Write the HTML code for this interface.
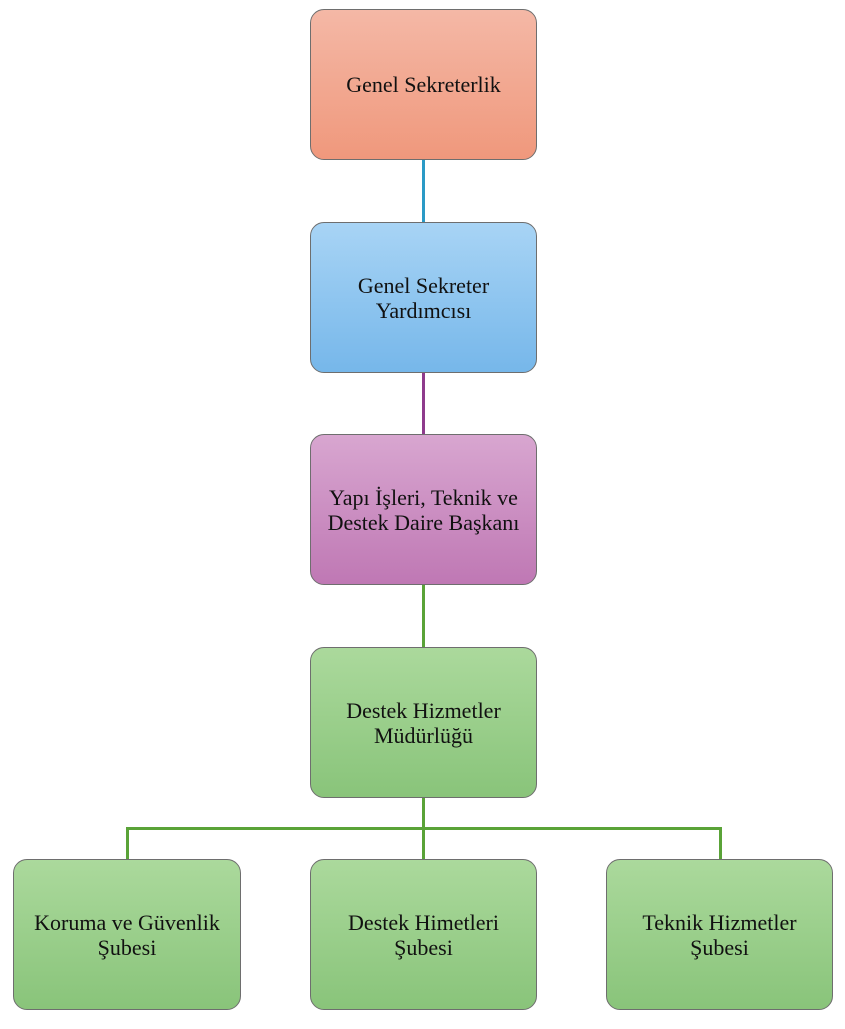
<!DOCTYPE html>
<html><head><meta charset="utf-8"><style>
body{margin:0;width:845px;height:1029px;background:#fff;position:relative;overflow:hidden;font-family:"Liberation Serif",serif;}
.b{position:absolute;width:227px;height:151px;border:1px solid #6e6e6e;border-radius:14px;box-sizing:border-box;display:flex;align-items:center;justify-content:center;text-align:center;font-size:22px;line-height:25px;color:#111;}
.r{background:linear-gradient(#f4b8a6,#f0987c);}
.bl{background:linear-gradient(#a8d4f5,#76b7ea);}
.p{background:linear-gradient(#d8a6d0,#bf78b4);}
.g{background:linear-gradient(#abd99c,#89c47a);}
.l{position:absolute;}
</style></head><body>
<div class="l" style="left:422px;top:159px;width:3px;height:63px;background:#2a9ac6"></div>
<div class="l" style="left:422px;top:372px;width:3px;height:62px;background:#8e3b8c"></div>
<div class="l" style="left:422px;top:584px;width:3px;height:63px;background:#5aa338"></div>
<div class="l" style="left:422px;top:797px;width:3px;height:62px;background:#5aa338"></div>
<div class="l" style="left:126px;top:827px;width:596px;height:3px;background:#5aa338"></div>
<div class="l" style="left:126px;top:827px;width:3px;height:32px;background:#5aa338"></div>
<div class="l" style="left:719px;top:827px;width:3px;height:32px;background:#5aa338"></div>
<div class="b r" style="left:310px;top:9px">Genel Sekreterlik</div>
<div class="b bl" style="left:310px;top:222px">Genel Sekreter<br>Yardımcısı</div>
<div class="b p" style="left:310px;top:434px">Yapı İşleri, Teknik ve<br>Destek Daire Başkanı</div>
<div class="b g" style="left:310px;top:647px">Destek Hizmetler<br>Müdürlüğü</div>
<div class="b g" style="left:13px;top:859px;width:228px">Koruma ve Güvenlik<br>Şubesi</div>
<div class="b g" style="left:310px;top:859px">Destek Himetleri<br>Şubesi</div>
<div class="b g" style="left:606px;top:859px;width:227px">Teknik Hizmetler<br>Şubesi</div>
</body></html>
